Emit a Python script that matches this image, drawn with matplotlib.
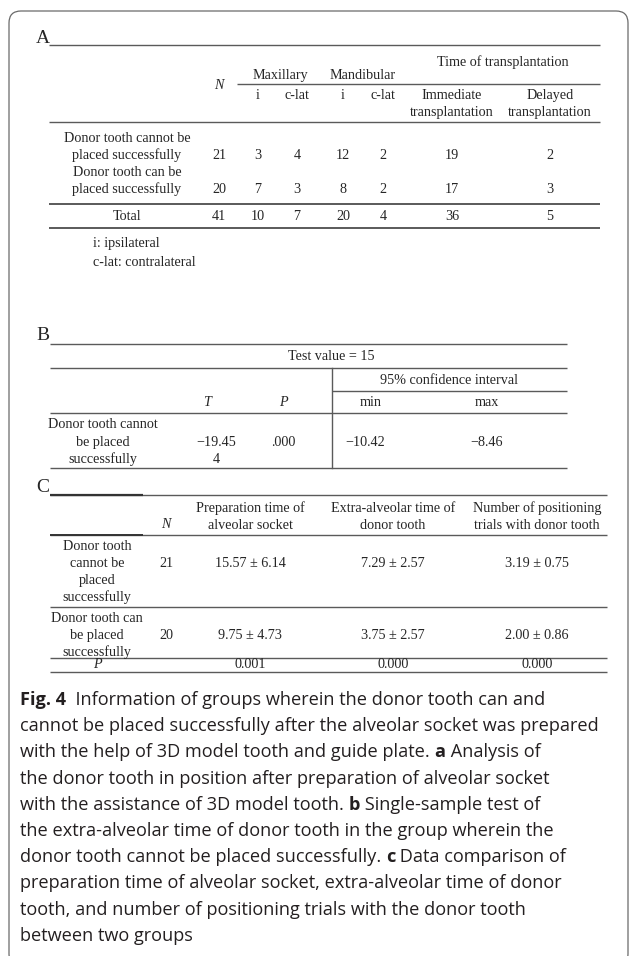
import matplotlib
matplotlib.use("Agg")
import matplotlib.pyplot as plt
from matplotlib.patches import FancyBboxPatch

# ---------------- data ----------------
# Panel A
A_row_labels = [["Donor tooth cannot be", "placed successfully"],
                ["Donor tooth can be", "placed successfully"],
                ["Total"]]
A_N = [21, 20, 41]
A_max_i = [3, 7, 10]
A_max_clat = [4, 3, 7]
A_mand_i = [12, 8, 20]
A_mand_clat = [2, 2, 4]
A_immediate = [19, 17, 36]
A_delayed = [2, 3, 5]
A_notes = ["i: ipsilateral", "c-lat: contralateral"]

# Panel B
B_test_value = 15
B_row_label = ["Donor tooth cannot", "be placed", "successfully"]
B_T = "\u221219.454"
B_P = ".000"
B_min = -10.42
B_max = -8.46

# Panel C
C_row_labels = [["Donor tooth", "cannot be", "placed", "successfully"],
                ["Donor tooth can", "be placed", "successfully"]]
C_headers = [["Preparation time of", "alveolar socket"],
             ["Extra-alveolar time of", "donor tooth"],
             ["Number of positioning", "trials with donor tooth"]]
C_N = [21, 20]
C_prep_mean = [15.57, 9.75]
C_prep_sd = [6.14, 4.73]
C_extra_mean = [7.29, 3.75]
C_extra_sd = [2.57, 2.57]
C_trials_mean = [3.19, 2.00]
C_trials_sd = [0.75, 0.86]
C_P = ["0.001", "0.000", "0.000"]

caption = [
    [("Fig. 4", True), ("  Information of groups wherein the donor tooth can and", False)],
    [("cannot be placed successfully after the alveolar socket was prepared", False)],
    [("with the help of 3D model tooth and guide plate. ", False), ("a", True), (" Analysis of", False)],
    [("the donor tooth in position after preparation of alveolar socket", False)],
    [("with the assistance of 3D model tooth. ", False), ("b", True), (" Single-sample test of", False)],
    [("the extra-alveolar time of donor tooth in the group wherein the", False)],
    [("donor tooth cannot be placed successfully. ", False), ("c", True), (" Data comparison of", False)],
    [("preparation time of alveolar socket, extra-alveolar time of donor", False)],
    [("tooth, and number of positioning trials with the donor tooth", False)],
    [("between two groups", False)],
]

# ---------------- figure ----------------
W, H = 629, 956
fig = plt.figure(figsize=(W / 100, H / 100), dpi=100)
ax = fig.add_axes([0, 0, 1, 1])
ax.set_xlim(0, W)
ax.set_ylim(H, 0)
ax.axis("off")

TC = "#262626"
RC = "#5a5a5a"
SERIF = "Liberation Serif"
FS = 10.2
LS = 17.2  # line step inside a cell


def t(x, y, s, ha="center", style="normal", fs=FS):
    ax.text(x, y, s, ha=ha, va="center", fontsize=fs, family=SERIF,
            color=TC, style=style)


def tlines(x, y0, lines, ha="center"):
    for k, s in enumerate(lines):
        t(x, y0 + LS * k, s, ha=ha)


def rule(x0, x1, y, lw=1.0, c=RC):
    ax.plot([x0, x1], [y, y], color=c, lw=lw, solid_capstyle="butt")


# frame
frame = FancyBboxPatch((9, 11), 619, 955, boxstyle="round,pad=0,rounding_size=12",
                       fc="white", ec="#6a6a6a", lw=0.9, zorder=0)
ax.add_patch(frame)

# ---------------- Panel A ----------------
t(36, 38, "A", ha="left", fs=14)
AL, AR = 49, 600
rule(AL, AR, 45)
t(503, 62, "Time of transplantation")
t(219, 85, "N", style="italic")
t(280, 75, "Maxillary")
t(363, 75, "Mandibular")
rule(237, AR, 84)
colx = [219, 258, 297, 343, 383, 452, 550]
t(colx[1], 95, "i")
t(colx[2], 95, "c-lat")
t(colx[3], 95, "i")
t(colx[4], 95, "c-lat")
tlines(colx[5], 95, ["Immediate", "transplantation"])
tlines(colx[6], 95, ["Delayed", "transplantation"])
rule(AL, AR, 122)

rows_y0 = [138, 172, 216]
cols = [A_N, A_max_i, A_max_clat, A_mand_i, A_mand_clat, A_immediate, A_delayed]
for r, lab in enumerate(A_row_labels):
    y0 = rows_y0[r]
    tlines(127, y0, lab)
    vy = y0 + LS * (len(lab) - 1)
    for cx, col in zip(colx, cols):
        t(cx, vy, str(col[r]))
rule(AL, AR, 204, lw=1.4)
rule(AL, AR, 228, lw=1.4)
t(93, 243, A_notes[0], ha="left")
t(93, 262, A_notes[1], ha="left")

# ---------------- Panel B ----------------
t(36, 336, "B", ha="left", fs=14)
BL, BR, BV = 50, 567, 332
rule(BL, BR, 344)
t(331, 357, "Test value = %d" % B_test_value)
rule(BL, BR, 368)
t(449, 380, "95% confidence interval")
rule(BV, BR, 391)
t(207, 403, "T", style="italic")
t(283, 403, "P", style="italic")
t(371, 403, "min")
t(487, 403, "max")
rule(BL, BR, 413)
tlines(103, 425, B_row_label)
t(216, 442, B_T[:-1])
t(216, 459, B_T[-1])
t(283, 442, B_P)
t(345, 442, ("%.2f" % B_min).replace("-", "\u2212"), ha="left")
t(470, 442, ("%.2f" % B_max).replace("-", "\u2212"), ha="left")
rule(BL, BR, 468)
ax.plot([BV, BV], [368, 468], color=RC, lw=1.0)

# ---------------- Panel C ----------------
t(36, 487, "C", ha="left", fs=14)
CL, CR = 50, 607
rule(CL, CR, 495)
rule(CL, 143, 495, lw=1.6, c="#333333")
ccol = [97, 166, 250, 393, 537]
t(ccol[1], 525, "N", style="italic")
for k, h in enumerate(C_headers):
    tlines(ccol[2 + k], 508, h)
rule(CL, CR, 535)
rule(CL, 143, 535, lw=1.4, c="#333333")

c_starts = [546, 618]
c_rules = [607, 658]
for r in range(2):
    y0 = c_starts[r]
    tlines(ccol[0], y0, C_row_labels[r])
    vy = y0 + LS
    t(ccol[1], vy, str(C_N[r]))
    t(ccol[2], vy, "%.2f \u00b1 %.2f" % (C_prep_mean[r], C_prep_sd[r]))
    t(ccol[3], vy, "%.2f \u00b1 %.2f" % (C_extra_mean[r], C_extra_sd[r]))
    t(ccol[4], vy, "%.2f \u00b1 %.2f" % (C_trials_mean[r], C_trials_sd[r]))
    rule(CL, CR, c_rules[r])
t(ccol[0], 665, "P", style="italic")
for k, p in enumerate(C_P):
    t(ccol[2 + k], 665, p)
rule(CL, CR, 672)

# ---------------- caption ----------------
fig.canvas.draw()
renderer = fig.canvas.get_renderer()
CAP_FS = 13.1
for i, line in enumerate(caption):
    x = 20
    y = 700 + 26.2 * i
    for s, bold in line:
        txt = ax.text(x, y, s, ha="left", va="center", fontsize=CAP_FS,
                      family="Open Sans", weight="bold" if bold else "normal",
                      color="#231f20")
        bb = txt.get_window_extent(renderer=renderer)
        x += bb.width

fig.savefig("out.png", dpi=100)
